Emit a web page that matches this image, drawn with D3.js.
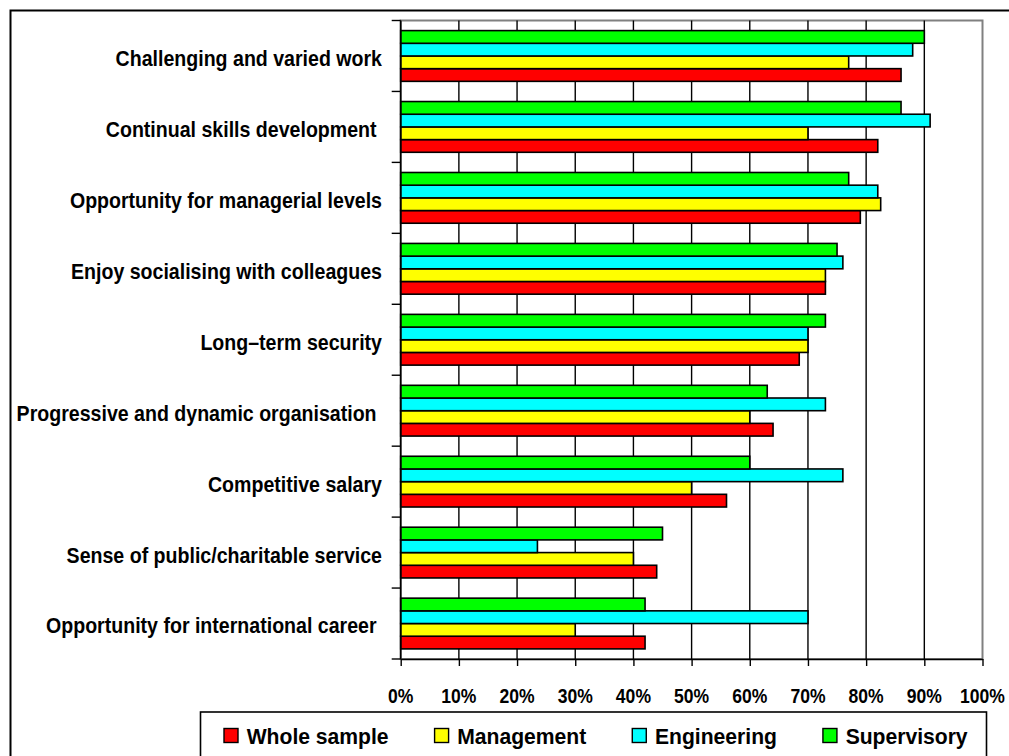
<!DOCTYPE html>
<html>
<head>
<meta charset="utf-8">
<script src="https://cdn.jsdelivr.net/npm/d3@7"></script>
<style>
  html, body { margin: 0; padding: 0; background: #fff; }
  svg { display: block; }
  text { font-family: 'Liberation Sans Narrow', 'Arial Narrow', 'Liberation Sans', Arial, sans-serif; font-weight: bold; fill: #000; }
</style>
</head>
<body>
<svg id="chart" width="1009" height="756"></svg>
<script>
// Job attributes, listed top to bottom
const categories = [
  "Challenging and varied work",
  "Continual skills development ",
  "Opportunity for managerial levels",
  "Enjoy socialising with colleagues",
  "Long\u2013term security",
  "Progressive and dynamic organisation ",
  "Competitive salary",
  "Sense of public/charitable service",
  "Opportunity for international career "
];

const seriesNames = ["Whole sample", "Management", "Engineering", "Supervisory"];

// Percentage of respondents per group
const wholeSample = [86, 82, 79, 73, 68.5, 64, 56, 44, 42];
const management  = [77, 70, 82.5, 73, 70, 60, 50, 40, 30];
const engineering = [88, 91, 82, 76, 70, 73, 76, 23.5, 70];
const supervisory = [90, 86, 77, 75, 73, 63, 60, 45, 42];

const xTickValues = [0, 10, 20, 30, 40, 50, 60, 70, 80, 90, 100];
const xTickLabels = ["0%", "10%", "20%", "30%", "40%", "50%", "60%", "70%", "80%", "90%", "100%"];

const seriesColors = ["#FF0000", "#FFFF00", "#00FFFF", "#00FF00"];

const seriesValues = [wholeSample, management, engineering, supervisory];
const rows = categories.map((c, i) => ({
  category: c,
  values: seriesNames.map((s, k) => ({ series: s, value: seriesValues[k][i], color: seriesColors[k] }))
}));

const svg = d3.select("#chart");

const plot = { left: 400.7, right: 982.5, top: 20.5, bottom: 659 };

const x = d3.scaleLinear().domain([0, 100]).range([plot.left, plot.right]);
const y = d3.scaleBand().domain(categories).range([plot.top, plot.bottom]).paddingInner(0).paddingOuter(0);

// series inside each category: Supervisory on top, Whole sample at bottom
const groupPad = 10.1;
const ySub = d3.scaleBand()
  .domain(seriesNames.slice().reverse())
  .range([groupPad, y.bandwidth() - groupPad])
  .padding(0);

// condensed bold lettering: squeeze the glyphs horizontally around the anchor
function placeText(sel, px, py, sx) {
  sel.attr("x", 0).attr("y", 0)
    .attr("transform", `translate(${px},${py}) scale(${sx},1)`);
}

// outer chart frame
svg.append("rect")
  .attr("x", 10.5).attr("y", 10.5)
  .attr("width", 1100).attr("height", 900)
  .attr("fill", "none").attr("stroke", "#000").attr("stroke-width", 2);

// plot area frame
svg.append("rect")
  .attr("x", plot.left).attr("y", plot.top)
  .attr("width", plot.right - plot.left).attr("height", plot.bottom - plot.top)
  .attr("fill", "#fff").attr("stroke", "#808080").attr("stroke-width", 2);

// vertical gridlines
svg.append("g")
  .selectAll("line")
  .data(xTickValues.filter(v => v > 0 && v < 100))
  .join("line")
  .attr("x1", d => x(d)).attr("x2", d => x(d))
  .attr("y1", plot.top).attr("y2", plot.bottom)
  .attr("stroke", "#000").attr("stroke-width", 1.4);

// bars
const groups = svg.append("g")
  .selectAll("g")
  .data(rows)
  .join("g")
  .attr("transform", d => `translate(0,${y(d.category)})`);

groups.selectAll("rect")
  .data(d => d.values)
  .join("rect")
  .attr("x", x(0))
  .attr("y", d => ySub(d.series))
  .attr("width", d => x(d.value) - x(0))
  .attr("height", ySub.bandwidth())
  .attr("fill", d => d.color)
  .attr("stroke", "#000")
  .attr("stroke-width", 1.6);

// x axis
const xAxis = d3.axisBottom(x)
  .tickValues(xTickValues)
  .tickSize(7)
  .tickSizeOuter(0)
  .tickFormat("");
const gx = svg.append("g")
  .attr("transform", `translate(0,${plot.bottom})`)
  .call(xAxis);
gx.select(".domain").attr("stroke", "#000").attr("stroke-width", 1.6);
gx.selectAll(".tick line").attr("stroke", "#000").attr("stroke-width", 1.4);

svg.append("g")
  .selectAll("text")
  .data(xTickValues)
  .join("text")
  .each(function (d) { placeText(d3.select(this), x(d), 696, 0.9); })
  .attr("text-anchor", "middle")
  .attr("dominant-baseline", "central")
  .attr("font-size", 19.5)
  .text((d, i) => xTickLabels[i]);

// y axis: line with ticks on category boundaries
const gy = svg.append("g");
gy.append("line")
  .attr("x1", plot.left).attr("x2", plot.left)
  .attr("y1", plot.top).attr("y2", plot.bottom)
  .attr("stroke", "#000").attr("stroke-width", 1.6);
const boundaries = categories.map(c => y(c)).concat([y.range()[1]]);
gy.selectAll("line.tick")
  .data(boundaries)
  .join("line")
  .attr("class", "tick")
  .attr("x1", plot.left - 9).attr("x2", plot.left)
  .attr("y1", d => d).attr("y2", d => d)
  .attr("stroke", "#000").attr("stroke-width", 1.4);

svg.append("g")
  .selectAll("text")
  .data(categories)
  .join("text")
  .each(function (d) { placeText(d3.select(this), 382, y(d) + y.bandwidth() / 2 + 2, 0.89); })
  .attr("text-anchor", "end")
  .attr("dominant-baseline", "central")
  .attr("font-size", 22)
  .style("white-space", "pre")
  .text(d => d);

// legend
const legend = svg.append("g");
legend.append("rect")
  .attr("x", 200.5).attr("y", 712)
  .attr("width", 786).attr("height", 60)
  .attr("fill", "#fff").attr("stroke", "#000").attr("stroke-width", 1.6);

const legendSx = 0.96;
let lx = 224;
seriesNames.forEach((name, k) => {
  const item = legend.append("g");
  item.append("rect")
    .attr("x", lx).attr("y", 728.5)
    .attr("width", 14).attr("height", 14)
    .attr("fill", seriesColors[k]).attr("stroke", "#000").attr("stroke-width", 1.4);
  const t = item.append("text")
    .attr("dominant-baseline", "central")
    .attr("font-size", 22)
    .text(name);
  placeText(t, lx + 22.7, 736, legendSx);
  lx = lx + 22.7 + t.node().getComputedTextLength() * legendSx + 46;
});
</script>
</body>
</html>
